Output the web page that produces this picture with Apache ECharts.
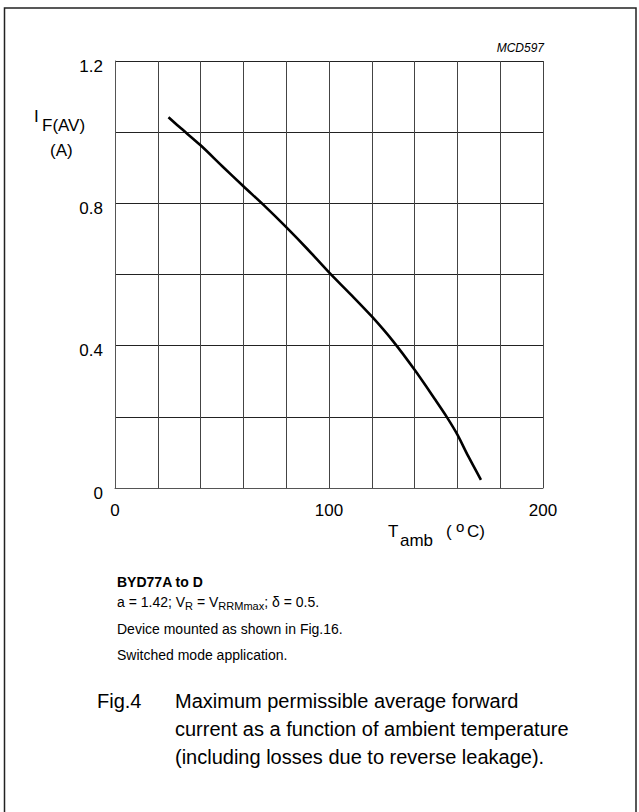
<!DOCTYPE html>
<html><head><meta charset="utf-8">
<script src="https://cdn.jsdelivr.net/npm/echarts@6/dist/echarts.min.js"></script>
<style>html,body{margin:0;padding:0;background:#fff}#c{width:639px;height:812px}</style>
</head><body><div id="c"></div>
<script>
// Data
const temperatureC = [25, 30, 40, 50, 60, 70, 80, 90, 100, 110, 120, 130, 140, 150, 155, 160, 165, 171];
const currentA = [1.042, 1.015, 0.963, 0.905, 0.848, 0.792, 0.733, 0.671, 0.606, 0.545, 0.482, 0.412, 0.332, 0.245, 0.200, 0.150, 0.090, 0.023];
const xTickLabels = ['0', '100', '200'];
const yTickLabels = ['0', '0.4', '0.8', '1.2'];
const figCode = 'MCD597';
const partName = 'BYD77A to D';
const noteLines = ['Device mounted as shown in Fig.16.', 'Switched mode application.'];
const figLabel = 'Fig.4';
const captionLines = ['Maximum permissible average forward', 'current as a function of ambient temperature', '(including losses due to reverse leakage).'];

const FF = '"Liberation Sans", Arial, Helvetica, sans-serif';
const mctx = document.createElement('canvas').getContext('2d');
function tw(t, size, weight, style) {
  mctx.font = `${style || 'normal'} ${weight || 'normal'} ${size}px ${FF}`;
  return mctx.measureText(t).width;
}
function txt(t, x, y, size, opt) {
  opt = opt || {};
  return {
    type: 'text', x: x, y: y, silent: true,
    style: {
      text: t, fill: '#000', fontSize: size, fontFamily: FF,
      fontWeight: opt.weight || 'normal', fontStyle: opt.style || 'normal',
      align: opt.align || 'left', verticalAlign: 'middle'
    }
  };
}
function seq(x, y, parts, size) {
  const out = []; let cx = x;
  parts.forEach(p => {
    const s = p.size || size;
    out.push(txt(p.t, cx, y + (p.dy || 0), s, p));
    cx += tw(p.t, s, p.weight, p.style);
  });
  return out;
}

const graphics = [];
graphics.push({ type: 'rect', silent: true, shape: { x: 4.5, y: 8, width: 631.5, height: 830 }, style: { fill: 'none', stroke: '#222', lineWidth: 1.5 } });
graphics.push(txt(figCode, 544, 48, 12, { style: 'italic', align: 'right' }));
// y axis title
graphics.push(txt('I', 34, 116, 17));
graphics.push(txt('F(AV)', 42, 125, 17));
graphics.push(txt('(A)', 50, 150, 17));
// x axis title
graphics.push(txt('T', 388, 531, 17));
graphics.push(txt('amb', 400, 540, 17));
graphics.push(txt('(', 446, 531, 17));
graphics.push(txt('o', 456, 526, 15));
graphics.push(txt('C)', 467, 531, 17));
// notes
graphics.push(txt(partName, 117, 582, 14, { weight: 'bold' }));
seq(117, 602, [
  { t: 'a = 1.42; V' }, { t: 'R', size: 11, dy: 4 }, { t: ' = V' }, { t: 'RRMmax', size: 11, dy: 4 }, { t: '; \u03b4 = 0.5.' }
], 14).forEach(e => graphics.push(e));
graphics.push(txt(noteLines[0], 117, 629, 14));
graphics.push(txt(noteLines[1], 117, 655, 14));
// caption
graphics.push(txt(figLabel, 97, 701, 20));
captionLines.forEach((l, i) => graphics.push(txt(l, 175, 701 + i * 28, 20)));

const chart = echarts.init(document.getElementById('c'), null, { renderer: 'svg' });
chart.setOption({
  animation: false,
  backgroundColor: '#fff',
  grid: { left: 115, top: 61, right: 96, bottom: 324, containLabel: false },
  xAxis: {
    type: 'value', min: 0, max: 200, interval: 20,
    axisLine: { show: true, lineStyle: { color: '#555', width: 1 } },
    axisTick: { show: false },
    splitLine: { show: true, lineStyle: { color: '#444', width: 1 } },
    axisLabel: {
      color: '#000', fontSize: 17, fontFamily: FF, margin: 14,
      formatter: v => xTickLabels.indexOf(String(v)) >= 0 ? String(v) : ''
    }
  },
  yAxis: {
    type: 'value', min: 0, max: 1.2, interval: 0.2,
    axisLine: { show: true, lineStyle: { color: '#555', width: 1 } },
    axisTick: { show: false },
    splitLine: { show: true, lineStyle: { color: '#222', width: 1 } },
    axisLabel: {
      color: '#000', fontSize: 17, fontFamily: FF, margin: 12,
      verticalAlign: 'top', lineHeight: 10,
      formatter: v => { const s = String(Math.round(v * 10) / 10); return yTickLabels.indexOf(s) >= 0 ? s : ''; }
    }
  },
  series: [{
    type: 'line', smooth: 0.3, symbol: 'none',
    lineStyle: { color: '#000', width: 2.6 },
    data: temperatureC.map((t, i) => [t, currentA[i]])
  }],
  graphic: { elements: graphics }
});
</script>
</body></html>
